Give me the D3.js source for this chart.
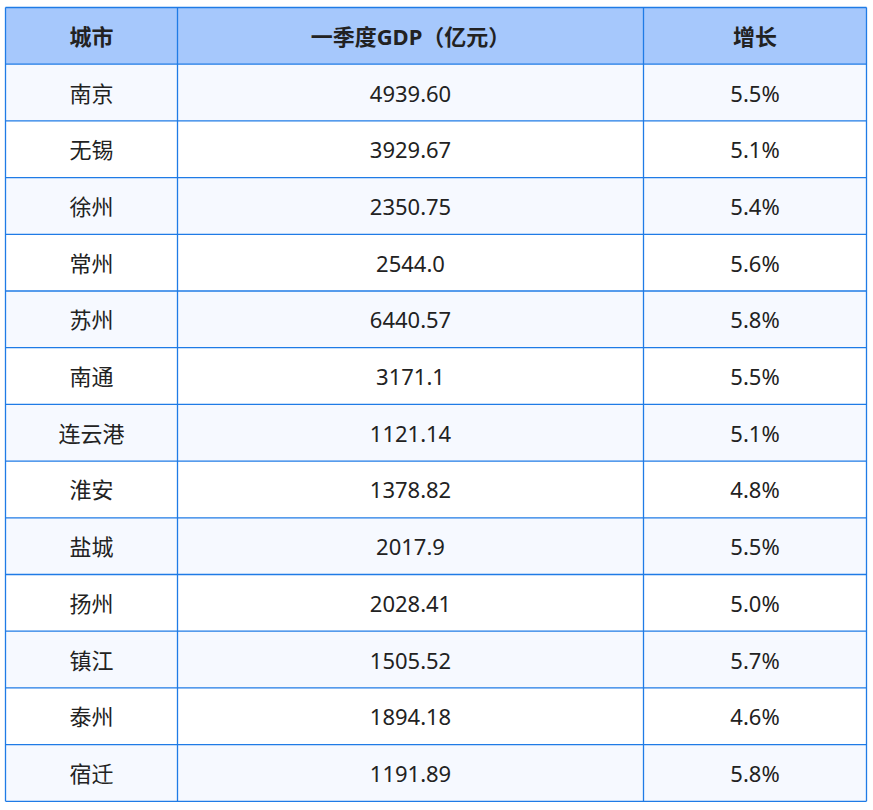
<!DOCTYPE html>
<html><head><meta charset="utf-8">
<script src="https://cdn.jsdelivr.net/npm/d3@7"></script>
<style>body{margin:0;background:#fff}</style></head>
<body><svg id="c" width="873" height="810"></svg>
<script>
const headers = ["城市","一季度GDP（亿元）","增长"];
const cities = ["南京","无锡","徐州","常州","苏州","南通","连云港","淮安","盐城","扬州","镇江","泰州","宿迁"];
const gdp = ["4939.60","3929.67","2350.75","2544.0","6440.57","3171.1","1121.14","1378.82","2017.9","2028.41","1505.52","1894.18","1191.89"];
const growth = ["5.5%","5.1%","5.4%","5.6%","5.8%","5.5%","5.1%","4.8%","5.5%","5.0%","5.7%","4.6%","5.8%"];

const svg = d3.select("#c");
const colEdges = [5.5,177.5,643.5,866.5];
const x0=5.5, y0=7.5, rowH=56.7, nRows=cities.length+1;
const y = d3.scaleLinear().domain([0,nRows]).range([y0,y0+rowH*nRows]);
const font = "'Noto Sans','Noto Sans CJK SC',sans-serif";
const rows = cities.map((c,i)=>[c,gdp[i],growth[i]]);
const all = [headers, ...rows];
all.forEach((r,i)=>{
  svg.append("rect").attr("x",x0).attr("y",y(i)).attr("width",colEdges[3]-x0).attr("height",rowH)
    .attr("fill", i===0?"#a6c8fc":(i%2===1?"#f6f9ff":"#ffffff"));
  r.forEach((t,j)=>{
    svg.append("text").attr("x",(colEdges[j]+colEdges[j+1])/2).attr("y",y(i)+rowH/2)
      .attr("text-anchor","middle").attr("dominant-baseline","central")
      .attr("font-family",font).attr("font-size",22).attr("fill","#222")
      .attr("font-weight", i===0?"bold":"normal").text(t);
  });
});
const bc="#1f7be6";
for(let i=0;i<=nRows;i++) svg.append("line").attr("x1",x0).attr("x2",colEdges[3]).attr("y1",y(i)).attr("y2",y(i)).attr("stroke",bc).attr("stroke-width",1.3);
colEdges.forEach(e=>svg.append("line").attr("x1",e).attr("x2",e).attr("y1",y0).attr("y2",y(nRows)).attr("stroke",bc).attr("stroke-width",1.3));
</script></body></html>
